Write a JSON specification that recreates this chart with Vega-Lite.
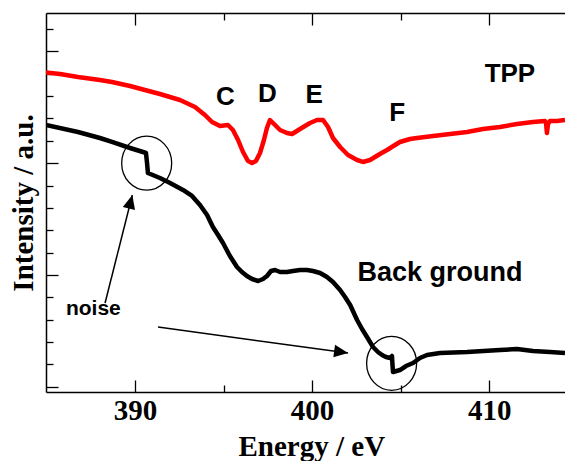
{
  "$schema": "https://vega.github.io/schema/vega-lite/v6.json",
  "width": 519,
  "height": 379,
  "autosize": {"type": "none"},
  "padding": {"left": 46, "top": 13, "right": 0, "bottom": 69},
  "background": "white",
  "config": {
    "view": {"stroke": null},
    "axis": {"grid": false, "domainColor": "#000", "tickColor": "#000", "domainWidth": 1.5, "tickWidth": 1.3}
  },
  "datasets": {
    "curves": [
      {"series": "TPP", "energy": 384.97, "intensity": 14.058},
      {"series": "TPP", "energy": 385.77, "intensity": 13.991},
      {"series": "TPP", "energy": 386.78, "intensity": 13.857},
      {"series": "TPP", "energy": 388.02, "intensity": 13.723},
      {"series": "TPP", "energy": 388.70, "intensity": 13.633},
      {"series": "TPP", "energy": 389.72, "intensity": 13.454},
      {"series": "TPP", "energy": 390.56, "intensity": 13.275},
      {"series": "TPP", "energy": 391.41, "intensity": 13.096},
      {"series": "TPP", "energy": 392.54, "intensity": 12.828},
      {"series": "TPP", "energy": 393.39, "intensity": 12.515},
      {"series": "TPP", "energy": 393.95, "intensity": 12.157},
      {"series": "TPP", "energy": 394.35, "intensity": 11.843},
      {"series": "TPP", "energy": 394.80, "intensity": 11.664},
      {"series": "TPP", "energy": 395.25, "intensity": 11.709},
      {"series": "TPP", "energy": 395.53, "intensity": 11.486},
      {"series": "TPP", "energy": 395.82, "intensity": 11.038},
      {"series": "TPP", "energy": 396.10, "intensity": 10.501},
      {"series": "TPP", "energy": 396.38, "intensity": 10.099},
      {"series": "TPP", "energy": 396.61, "intensity": 10.009},
      {"series": "TPP", "energy": 396.83, "intensity": 10.099},
      {"series": "TPP", "energy": 397.06, "intensity": 10.456},
      {"series": "TPP", "energy": 397.28, "intensity": 11.038},
      {"series": "TPP", "energy": 397.45, "intensity": 11.575},
      {"series": "TPP", "energy": 397.62, "intensity": 11.933},
      {"series": "TPP", "energy": 397.85, "intensity": 11.754},
      {"series": "TPP", "energy": 398.19, "intensity": 11.486},
      {"series": "TPP", "energy": 398.58, "intensity": 11.351},
      {"series": "TPP", "energy": 398.87, "intensity": 11.307},
      {"series": "TPP", "energy": 399.32, "intensity": 11.530},
      {"series": "TPP", "energy": 399.88, "intensity": 11.799},
      {"series": "TPP", "energy": 400.28, "intensity": 11.933},
      {"series": "TPP", "energy": 400.62, "intensity": 11.933},
      {"series": "TPP", "energy": 400.90, "intensity": 11.620},
      {"series": "TPP", "energy": 401.18, "intensity": 11.127},
      {"series": "TPP", "energy": 401.58, "intensity": 10.725},
      {"series": "TPP", "energy": 402.03, "intensity": 10.367},
      {"series": "TPP", "energy": 402.54, "intensity": 10.143},
      {"series": "TPP", "energy": 402.87, "intensity": 10.054},
      {"series": "TPP", "energy": 403.27, "intensity": 10.143},
      {"series": "TPP", "energy": 403.83, "intensity": 10.412},
      {"series": "TPP", "energy": 404.23, "intensity": 10.591},
      {"series": "TPP", "energy": 404.68, "intensity": 10.814},
      {"series": "TPP", "energy": 404.96, "intensity": 10.949},
      {"series": "TPP", "energy": 405.53, "intensity": 11.083},
      {"series": "TPP", "energy": 405.92, "intensity": 11.127},
      {"series": "TPP", "energy": 406.83, "intensity": 11.217},
      {"series": "TPP", "energy": 407.79, "intensity": 11.307},
      {"series": "TPP", "energy": 408.75, "intensity": 11.396},
      {"series": "TPP", "energy": 409.65, "intensity": 11.530},
      {"series": "TPP", "energy": 410.61, "intensity": 11.620},
      {"series": "TPP", "energy": 411.57, "intensity": 11.754},
      {"series": "TPP", "energy": 412.47, "intensity": 11.843},
      {"series": "TPP", "energy": 413.15, "intensity": 11.888},
      {"series": "TPP", "energy": 413.21, "intensity": 11.799},
      {"series": "TPP", "energy": 413.26, "intensity": 11.351},
      {"series": "TPP", "energy": 413.32, "intensity": 11.754},
      {"series": "TPP", "energy": 413.43, "intensity": 11.888},
      {"series": "TPP", "energy": 413.83, "intensity": 11.888},
      {"series": "TPP", "energy": 414.28, "intensity": 11.933},
      {"series": "BG", "energy": 384.97, "intensity": 11.709},
      {"series": "BG", "energy": 386.78, "intensity": 11.396},
      {"series": "BG", "energy": 388.02, "intensity": 11.127},
      {"series": "BG", "energy": 388.70, "intensity": 10.949},
      {"series": "BG", "energy": 389.72, "intensity": 10.680},
      {"series": "BG", "energy": 390.45, "intensity": 10.501},
      {"series": "BG", "energy": 390.62, "intensity": 10.456},
      {"series": "BG", "energy": 390.68, "intensity": 10.009},
      {"series": "BG", "energy": 390.73, "intensity": 9.562},
      {"series": "BG", "energy": 391.41, "intensity": 9.338},
      {"series": "BG", "energy": 391.98, "intensity": 9.114},
      {"series": "BG", "energy": 392.71, "intensity": 8.801},
      {"series": "BG", "energy": 393.22, "intensity": 8.533},
      {"series": "BG", "energy": 393.67, "intensity": 8.130},
      {"series": "BG", "energy": 394.07, "intensity": 7.682},
      {"series": "BG", "energy": 394.40, "intensity": 7.146},
      {"series": "BG", "energy": 394.69, "intensity": 6.787},
      {"series": "BG", "energy": 394.97, "intensity": 6.430},
      {"series": "BG", "energy": 395.36, "intensity": 5.848},
      {"series": "BG", "energy": 395.76, "intensity": 5.356},
      {"series": "BG", "energy": 396.04, "intensity": 5.132},
      {"series": "BG", "energy": 396.32, "intensity": 4.953},
      {"series": "BG", "energy": 396.61, "intensity": 4.819},
      {"series": "BG", "energy": 396.95, "intensity": 4.729},
      {"series": "BG", "energy": 397.23, "intensity": 4.819},
      {"series": "BG", "energy": 397.45, "intensity": 4.953},
      {"series": "BG", "energy": 397.68, "intensity": 5.177},
      {"series": "BG", "energy": 397.91, "intensity": 5.221},
      {"series": "BG", "energy": 398.19, "intensity": 5.132},
      {"series": "BG", "energy": 398.58, "intensity": 5.132},
      {"series": "BG", "energy": 398.92, "intensity": 5.177},
      {"series": "BG", "energy": 399.32, "intensity": 5.221},
      {"series": "BG", "energy": 399.71, "intensity": 5.221},
      {"series": "BG", "energy": 400.05, "intensity": 5.177},
      {"series": "BG", "energy": 400.45, "intensity": 5.087},
      {"series": "BG", "energy": 400.84, "intensity": 4.908},
      {"series": "BG", "energy": 401.18, "intensity": 4.685},
      {"series": "BG", "energy": 401.58, "intensity": 4.327},
      {"series": "BG", "energy": 401.86, "intensity": 4.013},
      {"series": "BG", "energy": 402.15, "intensity": 3.655},
      {"series": "BG", "energy": 402.54, "intensity": 2.984},
      {"series": "BG", "energy": 402.82, "intensity": 2.582},
      {"series": "BG", "energy": 403.10, "intensity": 2.224},
      {"series": "BG", "energy": 403.44, "intensity": 1.776},
      {"series": "BG", "energy": 403.72, "intensity": 1.553},
      {"series": "BG", "energy": 403.95, "intensity": 1.418},
      {"series": "BG", "energy": 404.17, "intensity": 1.329},
      {"series": "BG", "energy": 404.40, "intensity": 1.284},
      {"series": "BG", "energy": 404.51, "intensity": 1.374},
      {"series": "BG", "energy": 404.54, "intensity": 0.971},
      {"series": "BG", "energy": 404.57, "intensity": 0.658},
      {"series": "BG", "energy": 404.96, "intensity": 0.747},
      {"series": "BG", "energy": 405.30, "intensity": 0.926},
      {"series": "BG", "energy": 405.70, "intensity": 1.060},
      {"series": "BG", "energy": 406.09, "intensity": 1.284},
      {"series": "BG", "energy": 406.49, "intensity": 1.418},
      {"series": "BG", "energy": 407.22, "intensity": 1.508},
      {"series": "BG", "energy": 408.75, "intensity": 1.553},
      {"series": "BG", "energy": 410.61, "intensity": 1.642},
      {"series": "BG", "energy": 411.57, "intensity": 1.687},
      {"series": "BG", "energy": 412.47, "intensity": 1.597},
      {"series": "BG", "energy": 413.43, "intensity": 1.553},
      {"series": "BG", "energy": 414.28, "intensity": 1.508}
    ],
    "circles": [
      {"energy": 390.66, "intensity": 10.0},
      {"energy": 404.49, "intensity": 1.047}
    ],
    "arrows": [
      {"id": "a1", "energy": 388.31, "intensity": 3.745, "energy2": 389.85, "intensity2": 8.577},
      {"id": "a2", "energy": 391.30, "intensity": 2.671, "energy2": 402.03, "intensity2": 1.508}
    ],
    "labels": [
      {"label": "C", "energy": 395.11, "intensity": 12.604},
      {"label": "D", "energy": 397.48, "intensity": 12.752},
      {"label": "E", "energy": 400.12, "intensity": 12.680},
      {"label": "F", "energy": 404.81, "intensity": 11.888},
      {"label": "TPP", "energy": 411.17, "intensity": 13.647},
      {"label": "Back ground", "energy": 407.22, "intensity": 4.743},
      {"label": "noise", "energy": 387.65, "intensity": 3.208}
    ]
  },
  "layer": [
    {
      "data": {"name": "curves"},
      "mark": {"type": "line", "strokeWidth": 4.5, "strokeJoin": "round", "clip": true},
      "encoding": {
        "x": {
          "field": "energy", "type": "quantitative",
          "scale": {"domain": [384.975, 414.28], "nice": false, "zero": false},
          "axis": {
            "orient": "bottom",
            "values": [390, 400, 410],
            "tickSize": -12,
            "labelFont": "Liberation Serif", "labelFontWeight": "bold", "labelFontSize": 29, "labelColor": "#000",
            "labelPadding": 16, "labelFlush": false, "labelOverlap": false,
            "title": "Energy / eV",
            "titleFont": "Liberation Serif", "titleFontWeight": "bold", "titleFontSize": 29, "titleColor": "#000",
            "titleX": 265.3, "titleY": 63.5, "titleBaseline": "alphabetic", "titleAlign": "center"
          }
        },
        "y": {
          "field": "intensity", "type": "quantitative",
          "scale": {"domain": [-0.237, 16.72], "nice": false, "zero": false},
          "axis": {
            "orient": "left",
            "values": [0, 5, 10, 15],
            "tickSize": -12,
            "labels": false,
            "title": "Intensity / a.u.",
            "titleFont": "Liberation Serif", "titleFontWeight": "bold", "titleFontSize": 29, "titleColor": "#000",
            "titleAngle": -90, "titleX": -14, "titleY": 189.5, "titleBaseline": "alphabetic", "titleAlign": "center"
          }
        },
        "color": {
          "field": "series", "type": "nominal",
          "scale": {"domain": ["TPP", "BG"], "range": ["#ff0000", "#000000"]},
          "legend": null
        }
      }
    },
    {
      "data": {"name": "circles"},
      "mark": {
        "type": "point", "filled": false, "stroke": "#000", "strokeWidth": 1.3, "opacity": 1, "size": 2500,
        "shape": "M-1,0C-1,-0.596 -0.552,-1.08 0,-1.08C0.552,-1.08 1,-0.596 1,0C1,0.596 0.552,1.08 0,1.08C-0.552,1.08 -1,0.596 -1,0Z"
      },
      "encoding": {
        "x": {
          "field": "energy", "type": "quantitative",
          "scale": {"domain": [384.975, 414.28], "nice": false, "zero": false},
          "axis": {"orient": "top", "values": [390, 400, 410], "tickSize": -12, "labels": false, "title": null}
        },
        "y": {
          "field": "intensity", "type": "quantitative",
          "scale": {"domain": [-0.237, 16.72], "nice": false, "zero": false},
          "axis": {"orient": "left", "values": [1, 2, 3, 4, 6, 7, 8, 9, 11, 12, 13, 14, 16], "tickSize": -7, "labels": false, "domain": false, "title": null}
        }
      }
    },
    {
      "data": {"name": "arrows"},
      "mark": {"type": "rule", "color": "#000", "strokeWidth": 1.5},
      "encoding": {
        "x": {
          "field": "energy", "type": "quantitative",
          "axis": {"orient": "bottom", "values": [395, 405], "tickSize": -7, "labels": false, "domain": false, "title": null}
        },
        "y": {"field": "intensity", "type": "quantitative", "axis": null},
        "x2": {"field": "energy2"},
        "y2": {"field": "intensity2"}
      }
    },
    {
      "data": {"name": "arrows"},
      "mark": {"type": "point", "filled": true, "color": "#000", "opacity": 1, "size": 784, "shape": "M0,0L-0.45,1L0.45,1Z"},
      "encoding": {
        "x": {
          "field": "energy2", "type": "quantitative",
          "axis": {"orient": "top", "values": [395, 405], "tickSize": -7, "labels": false, "domain": false, "title": null}
        },
        "y": {"field": "intensity2", "type": "quantitative", "axis": null},
        "angle": {"condition": {"test": "datum.id === 'a1'", "value": 14.2}, "value": 97.8}
      }
    },
    {
      "data": {"name": "labels"},
      "transform": [{"filter": "datum.label !== 'noise' && datum.label !== 'Back ground'"}],
      "mark": {"type": "text", "font": "Liberation Sans", "fontWeight": "bold", "fontSize": 26, "align": "center", "baseline": "alphabetic", "color": "#000"},
      "encoding": {
        "x": {"field": "energy", "type": "quantitative", "axis": null},
        "y": {"field": "intensity", "type": "quantitative", "axis": null},
        "text": {"field": "label"}
      }
    },
    {
      "data": {"name": "labels"},
      "transform": [{"filter": "datum.label === 'Back ground'"}],
      "mark": {"type": "text", "font": "Liberation Sans", "fontWeight": "bold", "fontSize": 27, "align": "center", "baseline": "alphabetic", "color": "#000"},
      "encoding": {
        "x": {"field": "energy", "type": "quantitative", "axis": null},
        "y": {"field": "intensity", "type": "quantitative", "axis": null},
        "text": {"field": "label"}
      }
    },
    {
      "data": {"name": "labels"},
      "transform": [{"filter": "datum.label === 'noise'"}],
      "mark": {"type": "text", "font": "Liberation Sans", "fontWeight": "bold", "fontSize": 21, "align": "center", "baseline": "alphabetic", "color": "#000"},
      "encoding": {
        "x": {"field": "energy", "type": "quantitative", "axis": null},
        "y": {"field": "intensity", "type": "quantitative", "axis": null},
        "text": {"field": "label"}
      }
    }
  ],
  "resolve": {"axis": {"x": "independent", "y": "independent"}}
}
